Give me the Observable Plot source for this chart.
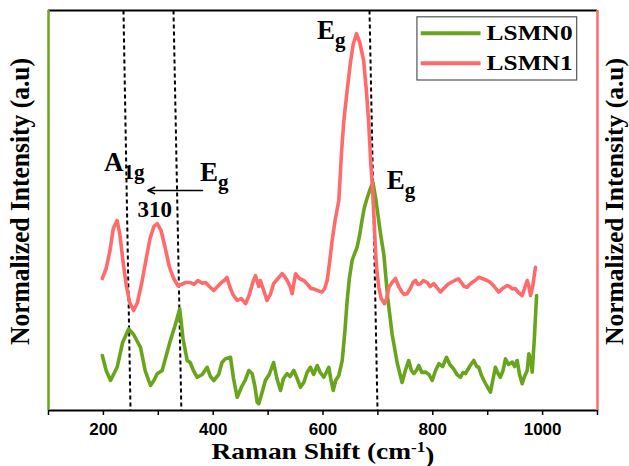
<!DOCTYPE html>
<html>
<head>
<meta charset="utf-8">
<script src="https://cdn.jsdelivr.net/npm/d3@7"></script>
<script src="https://cdn.jsdelivr.net/npm/@observablehq/plot@0.6"></script>
<style>
  html, body { margin: 0; padding: 0; background: white; }
  #chart { width: 629px; height: 466px; }
</style>
</head>
<body>
<div id="chart"></div>
<script>
// ---- Data ----
const seriesNames = ["LSMN0", "LSMN1"];
const seriesColors = ["#68a51c", "#ff6b6b"];

// LSMN0: [Raman shift (cm^-1), normalized intensity]
const lsmn0 = [
  [198,13.75],[205,10],[213,7.5],[225,10.8],[235,17],[246,20.4],[255,19],[267.6,15.8],[276,10],
  [285.8,6.25],[292,7.5],[298,9.2],[307,10],[315,14],[322,17.5],[330,21],[339,25.4],[345,18],
  [352.6,12.5],[358,12],[364,10],[370.9,8.3],[380,9],[389,10.8],[395,8.5],[401,7.5],[410,9],
  [416,12],[422,12.9],[431.5,13.3],[437,8],[443.7,3.3],[452,6],[458,7.5],[465,10],[471,9.2],
  [476,6],[480,2.1],[483,1.7],[488,4],[495,7.5],[502,9],[510,12],[516,8],[522.6,5],[528,8],
  [534.7,9.2],[540,8.5],[546.8,10],[553,8],[559,5.8],[565,7],[571,9.5],[577,10.8],[583,9],
  [589.4,11.25],[595,9.5],[601.5,8.3],[606,9.5],[610.6,10.8],[614,8],[618.6,5],[623,7.5],
  [628.8,8.75],[635,12.5],[640,20],[644,27.5],[648,33],[653,37.5],[657,39],[662,40.8],[667,44],
  [671,47.5],[675,50.5],[679,52.5],[685,55],[691,57],[696,53],[700,49],[705,44],[710.8,39],
  [718,28],[726,19],[735,12],[744,7],[750,10],[756,12.5],[761,10],[765.5,9.2],[770,10],
  [774.5,11.25],[780,9.5],[786.7,9.6],[793,9],[799,7.5],[805,10],[811,11.7],[818,11],[825,13.3],
  [831,11.5],[838,10.4],[844,9],[850.5,8.3],[855,9.5],[859.6,9.2],[867,11],[874.7,12.5],[880,11],
  [883.8,10.8],[888,9],[893,7.5],[899,6],[905,4.6],[910,8],[914,10.8],[918,9.5],[923,8.3],
  [928,10],[932.4,12.9],[938,11.5],[944.6,12.1],[949,11],[953.7,12.5],[958,9],[962.8,6.7],
  [967,8.5],[972,10],[975,14.2],[979,12],[981,9.6],[985,18],[989,28.75]
];

// LSMN1
const lsmn1 = [
  [198,33],[205,35.5],[212,40],[218,45.5],[225,47.5],[230,44],[236,37],[242,31],[248,27],
  [255,25],[262,27],[270,32],[278,38],[285,43],[292,46],[298,46.7],[305,45],[312,41],[320,36],
  [328,33],[335.5,31.2],[342,31.5],[350,32],[358.6,32],[365,31.5],[372,32.5],[380,31.8],
  [386,32],[393,31],[401,30],[408,31],[415,32],[420,32.5],[425,33.3],[430,31],[436,29],
  [443.7,27.5],[451,28],[459,26.7],[466,29],[472,32],[477,33.7],[483,31],[486,32.5],[492,30],
  [498,27.5],[504,29],[510,31.7],[518,33],[525.6,34.2],[530,33.5],[534.7,32.5],[540,31],
  [543.8,29.2],[550,34.2],[557,33],[565,32.5],[572,31.5],[578,30.5],[583,30.4],[590,30],
  [598.5,29.6],[603,30.5],[607.6,32.5],[612,37],[616.7,42.5],[622,47.5],[628.8,52.5],[634,65],
  [638,72.5],[644,80],[650,87],[655,91.5],[661,94.2],[667,92],[674,87.5],[679,80],[683,72.5],
  [687,62],[690,55.8],[693,48],[695.6,40],[698,35],[701.7,30.8],[706,28],[712,26.7],[716,28],
  [720,30.8],[726,32],[732,33],[738,31],[744,29.6],[748,29],[753,29.2],[759,30.5],[764,32],
  [768.5,32.5],[773,31.5],[777.6,31.7],[783,32.5],[789.8,32],[795,31],[801.8,31.7],[806,31],
  [814,29.6],[820,30.5],[827,31.5],[833,32],[840,32.5],[847,32.9],[852,32],[857,31],[862.6,30.8],
  [867,31.5],[871.7,32],[877,32.5],[883.8,33.3],[890,33],[899,32.5],[905,32],[912,31],[920,29.6],
  [927,30.5],[935.5,31.25],[940,31],[944.6,30.4],[950,30.5],[956,29.5],[962.8,28.75],[967,30.5],
  [972,32.5],[975,31],[978,28.75],[982,31],[987,35.8]
];

// Axis ticks
const xTicks = [100,200,300,400,500,600,700,800,900,1000,1100];
const xTickLabels = [200,400,600,800,1000];
const xDomain = [100, 1100];
const yDomain = [0, 100];

// Dashed guide lines (slanted in the original): top and bottom x positions
const guideTop = [236.6, 327.7, 684.7];
const guideBottom = [249.4, 342, 699.3];

// Peak annotations (label, x, y)
const peakLabels = ["A_1g", "E_g", "E_g", "E_g", "310"];
const peakLabelX = [201, 376, 589, 716, 262];
const peakLabelY = [62, 59.5, 95, 57.5, 50.3];
const arrowFrom = [380.5, 55];
const arrowTo = [281, 55];

// Titles
const xTitle = "Raman Shift (cm^-1)";
const yTitle = "Normalized Intensity (a.u)";

// ---- Build ----
const rows = [
  ...lsmn0.map(([x, y]) => ({series: seriesNames[0], x, y})),
  ...lsmn1.map(([x, y]) => ({series: seriesNames[1], x, y}))
];
const guides = guideTop.map((t, i) => ({top: t, bottom: guideBottom[i]}));
const labels = peakLabels.map((t, i) => ({t, x: peakLabelX[i], y: peakLabelY[i]}));
const legendRows = seriesNames.map((s, i) => ({s, c: seriesColors[i], y: 94.3 - i * 7.5}));

const serif = "'Liberation Serif', 'Times New Roman', serif";
const sans = "'Liberation Sans', Arial, sans-serif";

const chart = Plot.plot({
  width: 629,
  height: 466,
  marginLeft: 48,
  marginRight: 32,
  marginTop: 10,
  marginBottom: 56,
  style: {background: "white", overflow: "visible", color: "black"},
  x: {domain: xDomain},
  y: {domain: yDomain, axis: null},
  color: {domain: seriesNames, range: seriesColors},
  marks: [
    // dashed guides
    Plot.link(guides, {x1: "top", x2: "bottom", y1: () => yDomain[1], y2: () => yDomain[0],
      stroke: "black", strokeWidth: 2, strokeDasharray: "4,3"}),
    // spectra
    Plot.line(rows, {x: "x", y: "y", z: "series", stroke: "series", strokeWidth: 3.6,
      strokeLinejoin: "round", strokeLinecap: "round"}),
    // frame
    Plot.ruleY([yDomain[1]], {stroke: "black", strokeWidth: 2}),
    Plot.ruleY([yDomain[0]], {stroke: "black", strokeWidth: 2}),
    Plot.ruleX([xDomain[0]], {stroke: seriesColors[0], strokeWidth: 2.5}),
    Plot.ruleX([xDomain[1]], {stroke: seriesColors[1], strokeWidth: 2.5}),
    // x axis
    Plot.axisX({ticks: xTicks, tickSize: 5, tickPadding: 7, stroke: "black", strokeWidth: 1.5,
      tickFormat: d => xTickLabels.includes(d) ? String(d) : "",
      fontSize: 17, fontWeight: "bold", fontFamily: sans, fill: "black", label: null}),
    // titles
    Plot.text([xTitle], {frameAnchor: "bottom", lineAnchor: "middle", textAnchor: "middle", dy: 41,
      fontSize: 24, fontWeight: "bold", fontFamily: serif, fill: "black"}),
    Plot.text([yTitle], {frameAnchor: "left", textAnchor: "middle", lineAnchor: "middle", dx: -28, dy: -9,
      rotate: -90, fontSize: 27, fontWeight: "bold", fontFamily: serif, fill: "black"}),
    Plot.text([yTitle], {frameAnchor: "right", textAnchor: "middle", lineAnchor: "middle", dx: 17, dy: -9,
      rotate: -90, fontSize: 25, fontWeight: "bold", fontFamily: serif, fill: "black"}),
    // annotations
    Plot.arrow([{}], {x1: () => arrowFrom[0], y1: () => arrowFrom[1], x2: () => arrowTo[0], y2: () => arrowTo[1],
      stroke: "black", strokeWidth: 1.6, headLength: 7, headAngle: 50}),
    Plot.text(labels, {x: "x", y: "y", text: "t", textAnchor: "start", lineAnchor: "middle",
      fontSize: d => d.t === "310" ? 23 : 27, fontWeight: "bold", fontFamily: serif, fill: "black"}),
    // legend
    Plot.rect([{}], {x1: () => 772, x2: () => 1063, y1: () => 82.5, y2: () => 98.3,
      fill: "white", stroke: "#555", strokeWidth: 1.2}),
    Plot.link(legendRows, {x1: () => 778, x2: () => 887, y1: "y", y2: "y", stroke: "c", strokeWidth: 4}),
    Plot.text(legendRows, {x: () => 898, y: "y", text: "s", textAnchor: "start", lineAnchor: "middle",
      fontSize: 22, fontWeight: "bold", fontFamily: serif, fill: "black"})
  ]
});

// Text widths in the reference (it is slightly stretched horizontally)
const fitLengths = {[yTitle]: 287, [seriesNames[0]]: 86, [seriesNames[1]]: 86};

// Sub/superscript rendering for labels like "E_g" and "cm^-1"
d3.select(chart).selectAll("text").each(function() {
  const t = this.textContent;
  const el = d3.select(this);
  if (fitLengths[t]) {
    el.attr("textLength", fitLengths[t]).attr("lengthAdjust", "spacingAndGlyphs");
  }
  if (/^[A-Z]_/.test(t)) {
    const [base, sub] = t.split("_");
    el.text(null);
    el.append("tspan").text(base);
    el.append("tspan").attr("dy", "0.35em").attr("font-size", "21").text(sub);
  } else if (t.includes("^")) {
    const m = t.match(/^(.*)\^(\S+?)(\).*)$/);
    if (m) {
      el.text(null);
      el.append("tspan").text(m[1]);
      el.append("tspan").attr("dy", "-0.45em").attr("font-size", "15").text(m[2]);
      el.append("tspan").attr("dy", "0.45em").text(m[3]);
      el.attr("textLength", 223).attr("lengthAdjust", "spacingAndGlyphs");
    }
  }
});

document.getElementById("chart").appendChild(chart);
</script>
</body>
</html>
